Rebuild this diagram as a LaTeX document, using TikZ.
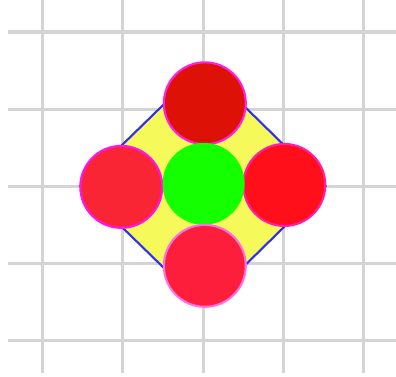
\documentclass[tikz,border=0pt]{standalone}
\usepackage{xcolor}
\usepackage{tikz}
\usetikzlibrary{positioning}

\definecolor{gridgray}{HTML}{D4D4D4}
\definecolor{diayellow}{HTML}{F5F95A}
\definecolor{diablue}{HTML}{3030F0}
\definecolor{topred}{HTML}{DD1105}
\definecolor{leftred}{HTML}{F92535}
\definecolor{rightred}{HTML}{FF0F1A}
\definecolor{bottomred}{HTML}{FC1E3A}
\definecolor{midgreen}{HTML}{14FF00}
\definecolor{topring}{HTML}{FF1EE6}
\definecolor{leftring}{HTML}{FF14F0}
\definecolor{rightring}{HTML}{FF1EA8}
\definecolor{bottomring}{HTML}{FF70E6}

\begin{document}
\begin{tikzpicture}[x=1cm, y=0.959cm,
    ball/.style={circle, minimum size=1.02cm, inner sep=0pt, line width=0.75pt}]
    \useasboundingbox (-2.53,-2.468) rectangle (2.40,2.416);

    % Background grid
    \draw[gridgray, line width=1.1pt, xstep=1cm, ystep=0.959cm] (-2.43,-2.42) grid (2.43,2.43);

    % Diamond behind the circles
    \filldraw[fill=diayellow, draw=diablue, line width=0.75pt, line join=round]
        (0,1.56) -- (1.525,0) -- (0,-1.56) -- (-1.535,0) -- cycle;

    % Outer circles
    \node[ball, fill=topred, draw=topring] (top) at (0.02, 1.075) {};
    \node[ball, fill=leftred, draw=leftring] (left) at (-1.02, -0.01) {};
    \node[ball, fill=rightred, draw=rightring] (right) at (1.01, 0.015) {};

    % Centre circle
    \node[ball, fill=midgreen] (centre) at (0.005, 0.03) {};

    \node[ball, fill=bottomred, draw=bottomring] (bottom) at (0.02, -1.035) {};

\end{tikzpicture}
\end{document}
